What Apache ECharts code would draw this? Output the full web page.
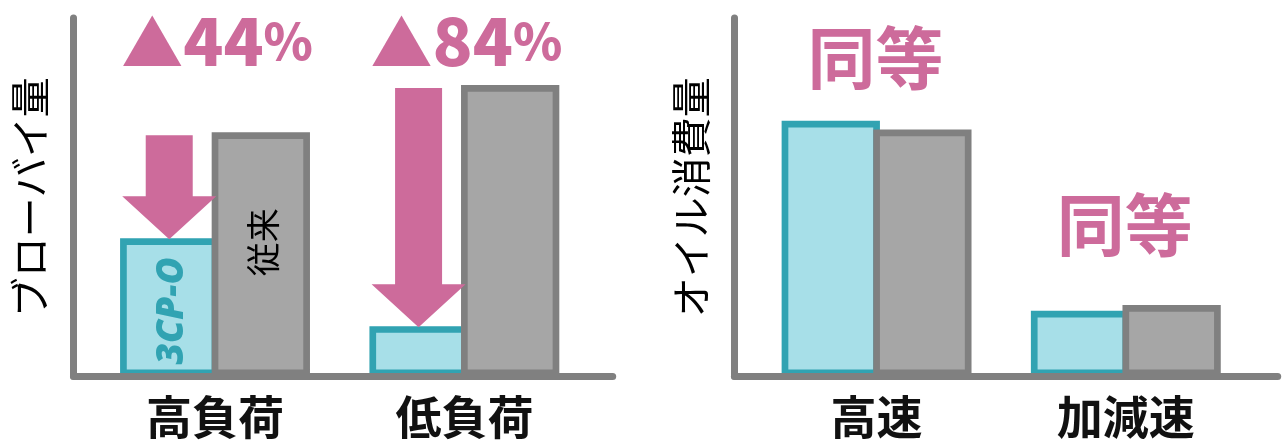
<!DOCTYPE html>
<html><head><meta charset="utf-8">
<script src="https://cdn.jsdelivr.net/npm/echarts@6/dist/echarts.min.js"></script>
<style>html,body{margin:0;padding:0;background:#fff}#c{width:1283px;height:440px}</style>
</head><body><div id="c"></div>
<script>
// ---- data ----
const leftCategories = ['高負荷', '低負荷'];
const rightCategories = ['高速', '加減速'];
const seriesNames = ['3CP-O', '従来'];
const blowby3CPO = [38.5, 14.0];
const blowbyConv = [68.1, 81.3];
const oil3CPO = [71.3, 18.3];
const oilConv = [68.9, 19.9];
const reductionLabels = ['▲44%', '▲84%'];
const equalLabels = ['同等', '同等'];
const yAxisNames = ['ブローバイ量', 'オイル消費量'];
const valueMax = 100;

// ---- style ----
const PINK = '#CD6B9B', TEAL = '#31A3B2', TEAL_FILL = '#A7DFE8', GRAY_FILL = '#A6A6A6', GRAY = '#808080';
const JP = '"Noto Sans CJK JP", "Noto Sans", sans-serif';
const BW = 98.3, BORDER = 6.7, TOP = 18, BOTTOM = 63.7;
const BAR_OFFSET = (BW - BORDER) / 2;
const equalLift = [63, 80];

const chart = echarts.init(document.getElementById('c'), null, {renderer: 'canvas', width: 1283, height: 440});

const axisFrameX = (g) => ({gridIndex: g, type: 'value', min: 0, max: 1, z: 5,
  axisLine: {show: true, onZero: false, lineStyle: {color: GRAY, width: 7}},
  axisTick: {show: false}, axisLabel: {show: false}, splitLine: {show: false}});
const axisFrameY = (g, name) => ({gridIndex: g, type: 'value', min: 0, max: valueMax, z: 5,
  axisLine: {show: true, onZero: false, lineStyle: {color: GRAY, width: 7}},
  axisTick: {show: false}, axisLabel: {show: false}, splitLine: {show: false},
  name: name, nameLocation: 'middle', nameRotate: 90, nameGap: 24,
  nameTextStyle: {fontSize: 40, fontFamily: JP, color: '#000'}});
const catAxis = (g, data) => ({gridIndex: g, type: 'category', data: data,
  axisLine: {show: false}, axisTick: {show: false},
  axisLabel: {fontSize: 46, fontWeight: 'bold', color: '#111', fontFamily: JP, margin: 17}});
const hiddenY = (g) => ({gridIndex: g, type: 'value', min: 0, max: valueMax, show: false});

function barSeries(g, values, which, withLabel) {
  const teal = which === 0;
  return {
    type: 'bar', name: seriesNames[which], xAxisIndex: g, yAxisIndex: g,
    barWidth: BW, barGap: (-BORDER / BW * 100).toFixed(2) + '%',
    itemStyle: {color: teal ? TEAL_FILL : GRAY_FILL, borderColor: teal ? TEAL : GRAY, borderWidth: BORDER},
    data: values.map((v, i) => (withLabel && i === 0) ? {
      value: v,
      label: teal ? {show: true, position: 'inside', rotate: 90, formatter: seriesNames[0],
        fontSize: 37, fontWeight: 900, fontStyle: 'italic', color: TEAL,
        fontFamily: '"Open Sans", Lato, sans-serif', offset: [-3.5, 3]}
      : {show: true, position: 'inside', rotate: 90, formatter: seriesNames[1],
        fontSize: 34, color: '#000', fontFamily: JP, offset: [12, 2]}
    } : v)
  };
}

const option = {
  backgroundColor: '#fff',
  animation: false,
  grid: [
    {left: 73.5, right: 670.3, top: TOP, bottom: BOTTOM},
    {left: 734.4, right: 5.3, top: TOP, bottom: BOTTOM},
    {left: 90.35, right: 693.95, top: TOP, bottom: BOTTOM},
    {left: 751.95, right: 32.55, top: TOP, bottom: BOTTOM}
  ],
  xAxis: [axisFrameX(0), axisFrameX(1), catAxis(2, leftCategories), catAxis(3, rightCategories)],
  yAxis: [axisFrameY(0, yAxisNames[0]), axisFrameY(1, yAxisNames[1]), hiddenY(2), hiddenY(3)],
  series: [
    barSeries(2, blowby3CPO, 0, true),
    barSeries(2, blowbyConv, 1, true),
    barSeries(3, oil3CPO, 0, false),
    barSeries(3, oilConv, 1, false),
    { // reduction arrows
      type: 'custom', xAxisIndex: 2, yAxisIndex: 2, z: 4,
      data: leftCategories.map((c, i) => [i, blowbyConv[i], blowby3CPO[i]]),
      renderItem(params, api) {
        const i = api.value(0);
        const top = api.coord([i, api.value(1)]);
        const tipP = api.coord([i, api.value(2)]);
        const cx = top[0] - BAR_OFFSET;
        const y0 = top[1] + 3, tip = tipP[1] + 1, headTop = tip - 43;
        const sw = 23.5, hw = 47;
        return {type: 'polygon', shape: {points: [
          [cx - sw, y0], [cx + sw, y0], [cx + sw, headTop], [cx + hw, headTop],
          [cx, tip], [cx - hw, headTop], [cx - sw, headTop]]},
          style: {fill: PINK}};
      }
    },
    { // reduction texts
      type: 'custom', xAxisIndex: 2, yAxisIndex: 2, z: 4,
      data: leftCategories.map((c, i) => [i]),
      renderItem(params, api) {
        const i = api.value(0);
        const p = api.coord([i, valueMax]);
        const txt = reductionLabels[params.dataIndex].replace(/^(▲)(\d+)(%)$/, '{t|$1}{n|$2}{p|$3}');
        return {type: 'text', x: p[0] + 2, y: p[1] + 23, style: {
          text: txt, align: 'center', verticalAlign: 'middle', fill: PINK,
          rich: {
            t: {fontSize: 62, fontFamily: JP, fill: PINK, verticalAlign: 'bottom'},
            n: {fontSize: 66, fontWeight: 900, fontFamily: JP, fill: PINK},
            p: {fontSize: 50, fontWeight: 900, fontFamily: JP, fill: PINK}
          }}};
      }
    },
    { // equal labels
      type: 'custom', xAxisIndex: 3, yAxisIndex: 3, z: 4,
      data: rightCategories.map((c, i) => [i, Math.max(oil3CPO[i], oilConv[i])]),
      renderItem(params, api) {
        const i = api.value(0);
        const p = api.coord([i, api.value(1)]);
        return {type: 'text', x: p[0] - 1, y: p[1] - equalLift[params.dataIndex], style: {
          text: equalLabels[params.dataIndex], align: 'center', verticalAlign: 'middle',
          fill: PINK, fontSize: 68, fontWeight: 'bold', fontFamily: JP}};
      }
    }
  ]
};
chart.setOption(option);
</script>
</body></html>
